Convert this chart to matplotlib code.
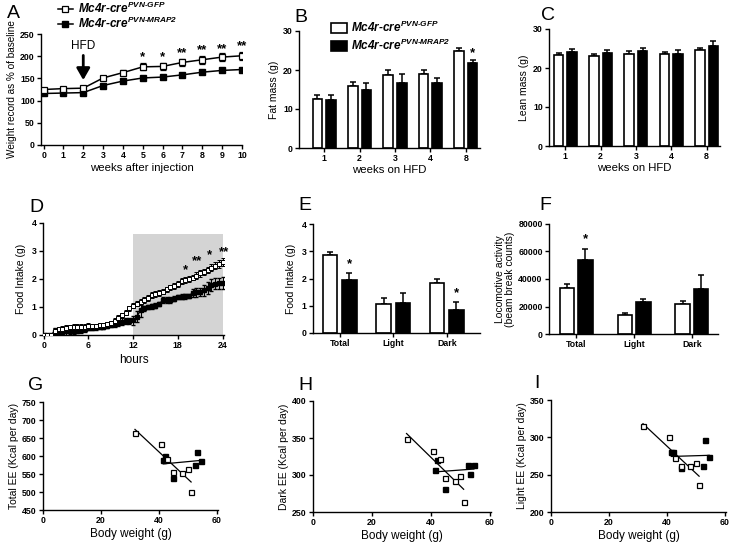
import matplotlib
matplotlib.use('Agg')
import matplotlib.pyplot as plt
from matplotlib.lines import Line2D
from matplotlib.patches import Patch
import numpy as np

plt.rcParams['font.family'] = ['Liberation Sans', 'DejaVu Sans']
plt.rcParams['font.weight'] = 'bold'
plt.rcParams['mathtext.fontset'] = 'custom'
plt.rcParams['mathtext.rm'] = 'Liberation Sans:bold:italic'
plt.rcParams['mathtext.it'] = 'Liberation Sans:bold:italic'
plt.rcParams['axes.linewidth'] = 1.0

W, H = 733, 543

# ---- data ----
gfp_label = r'Mc4r-cre$^{\text{PVN-GFP}}$'
mrap_label = r'Mc4r-cre$^{\text{PVN-MRAP2}}$'

# A: body weight (% of baseline)
weeks = [0, 1, 2, 3, 4, 5, 6, 7, 8, 9, 10]
wt_gfp = [125, 127, 128, 151, 163, 176, 177, 186, 192, 198, 201]
wt_gfp_err = [3, 3, 3, 4, 5, 8, 7, 8, 9, 9, 9]
wt_mrap = [116, 117, 118, 134, 144, 151, 153, 158, 164, 168, 170]
wt_mrap_err = [2, 2, 2, 3, 3, 3, 3, 3, 3, 3, 3]
wt_stars = ['*', '*', '**', '**', '**', '**']
wt_star_weeks = [5, 6, 7, 8, 9, 10]
wt_star_y = [198, 198, 207, 213, 216, 222]

# B / C: fat and lean mass
hfd_weeks = ['1', '2', '3', '4', '8']
fat_gfp = [12.6, 15.9, 18.8, 19.0, 24.8]
fat_gfp_err = [1.0, 1.0, 1.2, 1.1, 0.9]
fat_mrap = [12.2, 15.0, 16.7, 16.6, 21.7]
fat_mrap_err = [1.5, 1.6, 2.2, 1.4, 0.8]
lean_gfp = [23.4, 23.2, 23.7, 23.6, 24.6]
lean_gfp_err = [0.5, 0.3, 0.6, 0.6, 0.5]
lean_mrap = [24.1, 23.8, 24.3, 23.6, 25.6]
lean_mrap_err = [0.8, 0.9, 0.8, 1.1, 1.2]

# D: cumulative food intake over 24 h
hours = [i * 0.5 for i in range(49)]
fi_gfp = [0, 0, 0, 0.15, 0.2, 0.22, 0.25, 0.27, 0.28, 0.28, 0.29, 0.3, 0.32,
          0.33, 0.33, 0.34, 0.35, 0.38, 0.42, 0.5, 0.6, 0.7, 0.8, 0.95, 1.05,
          1.12, 1.17, 1.25, 1.32, 1.42, 1.47, 1.5, 1.55, 1.63, 1.7, 1.76, 1.82,
          1.92, 1.97, 2.0, 2.05, 2.12, 2.2, 2.25, 2.32, 2.4, 2.47, 2.53, 2.6]
fi_gfp_err = [0, 0, 0, 0.1, 0.1, 0.1, 0.1, 0.1, 0.1, 0.1, 0.1, 0.1, 0.1,
              0.08, 0.08, 0.08, 0.08, 0.08, 0.08, 0.1, 0.1, 0.1, 0.1, 0.1, 0.1,
              0.1, 0.1, 0.1, 0.1, 0.1, 0.1, 0.1, 0.1, 0.1, 0.1, 0.1, 0.1,
              0.1, 0.1, 0.1, 0.1, 0.12, 0.12, 0.12, 0.12, 0.13, 0.13, 0.14, 0.14]
fi_mrap = [0, 0, 0, 0.1, 0.1, 0.12, 0.13, 0.15, 0.15, 0.16, 0.18, 0.2, 0.25,
           0.26, 0.27, 0.28, 0.3, 0.32, 0.35, 0.4, 0.43, 0.47, 0.5, 0.5, 0.52,
           0.65, 0.9, 0.95, 1.0, 1.02, 1.05, 1.1, 1.25, 1.25, 1.26, 1.3, 1.35,
           1.37, 1.38, 1.4, 1.5, 1.52, 1.53, 1.6, 1.68, 1.78, 1.83, 1.85, 1.86]
fi_mrap_err = [0, 0, 0, 0.15, 0.15, 0.12, 0.12, 0.1, 0.1, 0.1, 0.1, 0.1, 0.08,
               0.08, 0.08, 0.08, 0.08, 0.08, 0.08, 0.1, 0.1, 0.12, 0.12, 0.12, 0.15,
               0.2, 0.25, 0.1, 0.08, 0.08, 0.08, 0.08, 0.1, 0.1, 0.1, 0.1, 0.08,
               0.08, 0.08, 0.08, 0.15, 0.15, 0.15, 0.2, 0.22, 0.22, 0.2, 0.2, 0.2]
fi_star_x = [19.0, 20.6, 22.2, 24.2]
fi_star_y = [2.3, 2.65, 2.85, 2.95]
fi_stars = ['*', '**', '*', '**']

# E / F: food intake and locomotor activity by phase
phases = ['Total', 'Light', 'Dark']
food_gfp = [2.85, 1.05, 1.83]
food_gfp_err = [0.14, 0.25, 0.17]
food_mrap = [1.93, 1.1, 0.85]
food_mrap_err = [0.27, 0.35, 0.28]
food_star = [2.52, None, 1.47]
loco_gfp = [33500, 13500, 21500]
loco_gfp_err = [2900, 1500, 2400]
loco_mrap = [54000, 23000, 32500]
loco_mrap_err = [8000, 2400, 10200]
loco_star = [69000, None, None]

# G / H / I: energy expenditure vs body weight
bw_gfp = [31.8, 40.9, 43.0, 44.8, 48.2, 50.1, 51.2]
bw_mrap = [41.6, 42.2, 44.9, 52.6, 53.3, 54.7]
total_gfp = [663, 632, 593, 556, 552, 564, 499]
total_mrap = [589, 599, 539, 574, 610, 587]
dark_gfp = [348, 333, 322, 296, 292, 298, 264]
dark_mrap = [307, 320, 281, 314, 302, 313]
light_gfp = [315, 300, 272, 261, 261, 266, 236]
light_mrap = [281, 280, 259, 261, 297, 273]


def px_axes(l, t, r, b):
    return fig.add_axes([l / W, 1 - b / H, (r - l) / W, (b - t) / H])


def style(ax):
    for s in ['top', 'right']:
        ax.spines[s].set_visible(False)
    ax.tick_params(direction='out', length=3, width=1, labelsize=6.3, pad=1.5)


def bars(ax, a, a_err, b, b_err, labels, off, width):
    x = np.arange(len(a))
    ax.bar(x - off, a, width, color='white', edgecolor='black', linewidth=1.2, zorder=2)
    ax.bar(x + off, b, width, color='black', edgecolor='black', linewidth=1.2, zorder=2)
    for xs, v, e in [(x - off, a, a_err), (x + off, b, b_err)]:
        ax.errorbar(xs, v, yerr=[np.zeros(len(v)), e], fmt='none', ecolor='black',
                    elinewidth=1.1, capsize=2.5, capthick=1.1, zorder=1)
    ax.set_xticks(x)
    ax.set_xticklabels(labels)
    style(ax)


def scatter(ax, xg, yg, xm, ym):
    for xs, ys in [(xg, yg), (xm, ym)]:
        k, c = np.polyfit(xs, ys, 1)
        xx = np.array([min(xs), max(xs)])
        ax.plot(xx, k * xx + c, color='black', lw=0.9, zorder=1)
    ax.plot(xg, yg, 's', ms=3.6, mfc='white', mec='black', mew=0.9, zorder=3)
    ax.plot(xm, ym, 's', ms=3.6, mfc='black', mec='black', zorder=2)
    ax.set_xlim(0, 60.5)
    ax.set_xticks([0, 20, 40, 60])
    ax.set_xlabel('Body weight (g)', fontsize=8.5, labelpad=2)
    style(ax)


fig = plt.figure(figsize=(W / 100, H / 100), dpi=100)

# ---- A ----
ax = px_axes(41, 34, 242, 145)
ax.errorbar(weeks, wt_gfp, yerr=wt_gfp_err, color='black', marker='s', ms=4,
            mfc='white', mec='black', mew=0.9, lw=1.1, capsize=2, elinewidth=0.9, zorder=3)
ax.errorbar(weeks, wt_mrap, yerr=wt_mrap_err, color='black', marker='s', ms=4,
            mfc='black', lw=1.1, capsize=2, elinewidth=0.9, zorder=2)
for x, y, s in zip(wt_star_weeks, wt_star_y, wt_stars):
    ax.text(x, y, s, ha='center', va='center', fontsize=9.5)
ax.annotate('', xy=(2, 140), xytext=(2, 208),
            arrowprops=dict(arrowstyle='-|>,head_width=0.4,head_length=0.7',
                            color='black', lw=2))
ax.text(2, 222, 'HFD', ha='center', va='center', fontsize=8.5, fontweight='normal')
ax.set_xlim(-0.13, 10.0)
ax.set_ylim(0, 250)
ax.set_xticks(weeks)
ax.set_yticks([0, 50, 100, 150, 200, 250])
ax.set_xlabel('weeks after injection', fontsize=8.2, labelpad=2)
ax.set_ylabel('Weight record as % of baseline', fontsize=7.2, labelpad=2)
style(ax)
a_handles = [Line2D([], [], color='black', marker='s', ms=4, mfc='white', mec='black',
                    mew=0.9, lw=1.1, label=gfp_label),
             Line2D([], [], color='black', marker='s', ms=4, mfc='black', lw=1.1,
                    label=mrap_label)]
ax.legend(handles=a_handles, loc='upper left', bbox_to_anchor=(53 / W, 1 + 4 / H),
          bbox_transform=fig.transFigure, frameon=False, handlelength=1.3,
          handletextpad=0.4, labelspacing=0.0, borderaxespad=0,
          prop={'style': 'italic', 'weight': 'bold', 'size': 8.5})

# ---- B ----
ax = px_axes(299, 31, 480, 148)
bars(ax, fat_gfp, fat_gfp_err, fat_mrap, fat_mrap_err, hfd_weeks, 0.19, 0.27)
ax.text(4.19, 24.3, '*', ha='center', va='center', fontsize=9.5)
ax.set_xlim(-0.71, 4.4)
ax.set_ylim(0, 30)
ax.set_yticks([0, 10, 20, 30])
ax.set_xlabel('weeks on HFD', fontsize=8.2, labelpad=1)
ax.set_ylabel('Fat mass (g)', fontsize=7.5, fontweight='normal', labelpad=3)
ax.legend(handles=[Patch(facecolor='white', edgecolor='black', lw=1.2, label=gfp_label),
                   Patch(facecolor='black', edgecolor='black', lw=1.2, label=mrap_label)],
          loc='upper left', bbox_to_anchor=(326 / W, 1 - 15 / H), bbox_transform=fig.transFigure,
          frameon=False, handlelength=1.4, handleheight=0.9, handletextpad=0.35,
          labelspacing=0.25, borderaxespad=0,
          prop={'style': 'italic', 'weight': 'bold', 'size': 8.5})

# ---- C ----
ax = px_axes(549, 29, 720, 146)
bars(ax, lean_gfp, lean_gfp_err, lean_mrap, lean_mrap_err, hfd_weeks, 0.19, 0.27)
ax.set_xlim(-0.46, 4.38)
ax.set_ylim(0, 30)
ax.set_yticks([0, 10, 20, 30])
ax.set_xlabel('weeks on HFD', fontsize=8.2, labelpad=1)
ax.set_ylabel('Lean mass (g)', fontsize=7.5, fontweight='normal', labelpad=3)

# ---- D ----
ax = px_axes(43, 223, 224, 335)
ax.fill_between([12, 24], 0, 3.6, color='#d4d4d4', lw=0, zorder=0)
ax.errorbar(hours, fi_mrap, yerr=fi_mrap_err, color='black', marker='s', ms=2.5,
            mfc='black', lw=1, capsize=1.5, elinewidth=0.8, zorder=2)
ax.errorbar(hours, fi_gfp, yerr=fi_gfp_err, color='black', marker='s', ms=2.8,
            mfc='white', mec='black', mew=0.7, lw=1, capsize=1.5, elinewidth=0.8, zorder=3)
for x, y, s in zip(fi_star_x, fi_star_y, fi_stars):
    ax.text(x, y, s, ha='center', va='center', fontsize=9.5)
ax.set_xlim(-0.1, 24.2)
ax.set_ylim(0, 4)
ax.set_xticks([0, 6, 12, 18, 24])
ax.set_yticks([0, 1, 2, 3, 4])
ax.set_xlabel('hours', fontsize=8.5, labelpad=3)
ax.set_ylabel('Food Intake (g)', fontsize=7.5, fontweight='normal', labelpad=4)
style(ax)

# ---- E ----
ax = px_axes(313, 224, 480, 333)
bars(ax, food_gfp, food_gfp_err, food_mrap, food_mrap_err, phases, 0.18, 0.27)
for i, y in enumerate(food_star):
    if y is not None:
        ax.text(i + 0.18, y, '*', ha='center', va='center', fontsize=9.5)
ax.set_xlim(-0.5, 2.62)
ax.set_ylim(0, 4)
ax.set_yticks([0, 1, 2, 3, 4])
ax.set_ylabel('Food Intake (g)', fontsize=7.5, fontweight='normal', labelpad=4)

# ---- F ----
ax = px_axes(549, 224, 718, 334)
bars(ax, loco_gfp, loco_gfp_err, loco_mrap, loco_mrap_err, phases, 0.16, 0.25)
for i, y in enumerate(loco_star):
    if y is not None:
        ax.text(i + 0.16, y, '*', ha='center', va='center', fontsize=9.5)
ax.set_xlim(-0.47, 2.45)
ax.set_ylim(0, 80000)
ax.set_yticks([0, 20000, 40000, 60000, 80000])
ax.set_ylabel('Locomotive activity\n(beam break counts)', fontsize=7.5,
              fontweight='normal', labelpad=2, linespacing=1.0)

# ---- G ----
ax = px_axes(43, 402, 218, 510)
scatter(ax, bw_gfp, total_gfp, bw_mrap, total_mrap)
ax.set_ylim(450, 750)
ax.set_yticks(range(450, 751, 50))
ax.set_ylabel('Total EE (Kcal per day)', fontsize=7.5, labelpad=2)

# ---- H ----
ax = px_axes(313, 401, 491, 512)
scatter(ax, bw_gfp, dark_gfp, bw_mrap, dark_mrap)
ax.set_ylim(250, 400)
ax.set_yticks([250, 300, 350, 400])
ax.set_ylabel('Dark EE (Kcal per day)', fontsize=7.5, labelpad=2)

# ---- I ----
ax = px_axes(551, 400, 726, 512)
scatter(ax, bw_gfp, light_gfp, bw_mrap, light_mrap)
ax.set_ylim(200, 350)
ax.set_yticks([200, 250, 300, 350])
ax.set_ylabel('Light EE (Kcal per day)', fontsize=7.5, labelpad=2)

# panel letters
for letter, x, y in [('A', 7, 13), ('B', 294, 17), ('C', 541, 15), ('D', 29, 207),
                     ('E', 298, 206), ('F', 539, 206), ('G', 28, 385),
                     ('H', 298, 385), ('I', 534, 384)]:
    fig.text(x / W, 1 - y / H, letter, fontsize=14, fontweight='normal',
             ha='left', va='center')

fig.savefig('out.png', dpi=100)
